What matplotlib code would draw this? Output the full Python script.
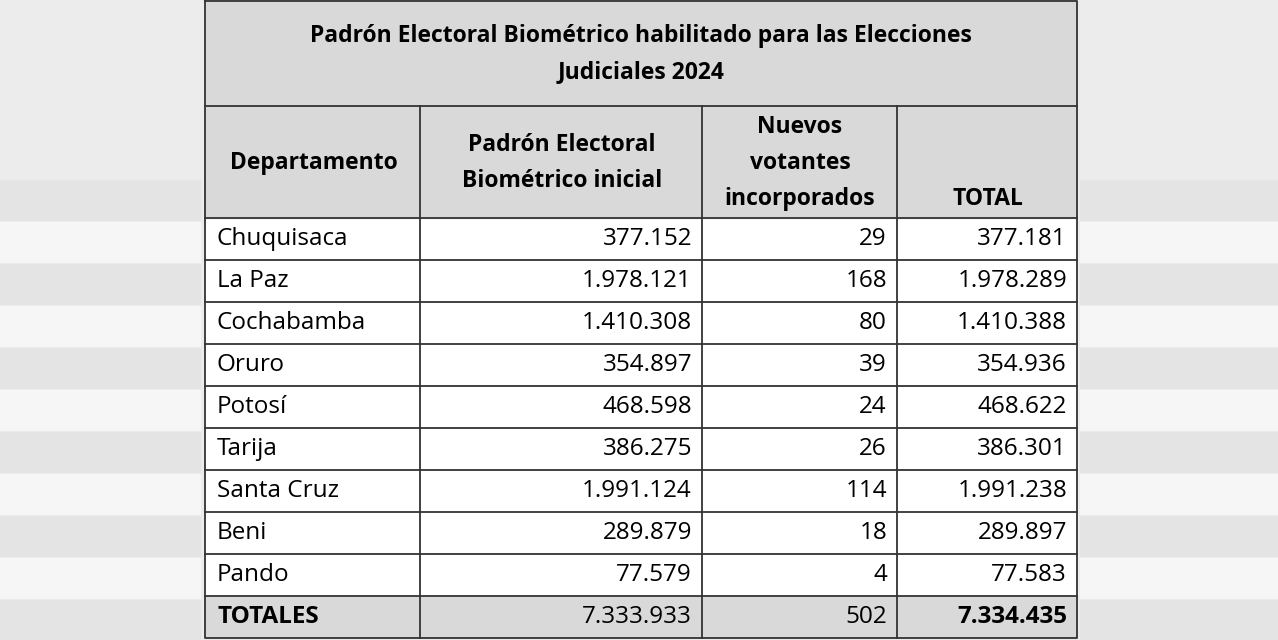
import matplotlib
matplotlib.use("Agg")
import matplotlib.pyplot as plt
from matplotlib.patches import Rectangle

title = ["Padrón Electoral Biométrico habilitado para las Elecciones", "Judiciales 2024"]
headers = ["Departamento", "Padrón Electoral\nBiométrico inicial", "Nuevos\nvotantes\nincorporados", "TOTAL"]
departamentos = ["Chuquisaca", "La Paz", "Cochabamba", "Oruro", "Potosí", "Tarija", "Santa Cruz", "Beni", "Pando"]
inicial = ["377.152", "1.978.121", "1.410.308", "354.897", "468.598", "386.275", "1.991.124", "289.879", "77.579"]
nuevos = ["29", "168", "80", "39", "24", "26", "114", "18", "4"]
total = ["377.181", "1.978.289", "1.410.388", "354.936", "468.622", "386.301", "1.991.238", "289.897", "77.583"]
totales = ["TOTALES", "7.333.933", "502", "7.334.435"]

FONT = "Open Sans"
fig = plt.figure(figsize=(12.78, 6.4), dpi=100)
fig.patch.set_facecolor("#ececec")
ax = fig.add_axes([0, 0, 1, 1])
ax.set_xlim(0, 1278); ax.set_ylim(640, 0); ax.axis("off")

for i in range(11):
    y0 = 180 + i * 42
    ax.add_patch(Rectangle((0, y0), 200, 40, color="#f6f6f6" if i % 2 else "#e4e4e4", zorder=0))
    ax.add_patch(Rectangle((1080, y0), 198, 40, color="#f6f6f6" if i % 2 else "#e4e4e4", zorder=0))

cols = [205, 420, 702, 897, 1077]
gray = "#d9d9d9"
ax.add_patch(Rectangle((205, 0), 872, 638, color="white", zorder=1))
ax.add_patch(Rectangle((205, 0), 872, 218, color=gray, zorder=1))
rows = [218 + 42 * i for i in range(11)]
ax.add_patch(Rectangle((205, rows[9]), 872, 42, color=gray, zorder=1))

lw = 1.3
ax.plot([205, 1077, 1077, 205, 205], [1, 1, 638, 638, 1], color="#333", lw=lw, zorder=3)
ax.plot([205, 1077], [106, 106], color="#333", lw=lw, zorder=3)
for y in rows[:-1]:
    ax.plot([205, 1077], [y, y], color="#333", lw=lw, zorder=3)
for x in cols[1:-1]:
    ax.plot([x, x], [106, 638], color="#333", lw=lw, zorder=3)

TS = 16.5
ax.text(641, 36, title[0], ha="center", va="center", fontsize=TS, fontweight="bold", family=FONT, zorder=4)
ax.text(641, 72, title[1], ha="center", va="center", fontsize=TS, fontweight="bold", family=FONT, zorder=4)

HS = 16.5
ax.text(314, 163, headers[0], ha="center", va="center", fontsize=HS, fontweight="bold", family=FONT, zorder=4)
ax.text(562, 163, headers[1], ha="center", va="center", fontsize=HS, fontweight="bold", family=FONT, linespacing=1.65, zorder=4)
ax.text(800, 163, headers[2], ha="center", va="center", fontsize=HS, fontweight="bold", family=FONT, linespacing=1.65, zorder=4)
ax.text(988, 199, headers[3], ha="center", va="center", fontsize=HS, fontweight="bold", family=FONT, zorder=4)

DS = 17.5
for i in range(9):
    yc = rows[i] + 21
    ax.text(217, yc, departamentos[i], ha="left", va="center", fontsize=DS, family=FONT, zorder=4)
    ax.text(692, yc, inicial[i], ha="right", va="center", fontsize=DS, family=FONT, zorder=4)
    ax.text(887, yc, nuevos[i], ha="right", va="center", fontsize=DS, family=FONT, zorder=4)
    ax.text(1067, yc, total[i], ha="right", va="center", fontsize=DS, family=FONT, zorder=4)

yc = rows[9] + 21
ax.text(217, yc, totales[0], ha="left", va="center", fontsize=DS, fontweight="bold", family=FONT, zorder=4)
ax.text(692, yc, totales[1], ha="right", va="center", fontsize=DS, family=FONT, zorder=4)
ax.text(887, yc, totales[2], ha="right", va="center", fontsize=DS, family=FONT, zorder=4)
ax.text(1067, yc, totales[3], ha="right", va="center", fontsize=DS, fontweight="bold", family=FONT, zorder=4)

fig.savefig("out.png", dpi=100, facecolor=fig.get_facecolor())
